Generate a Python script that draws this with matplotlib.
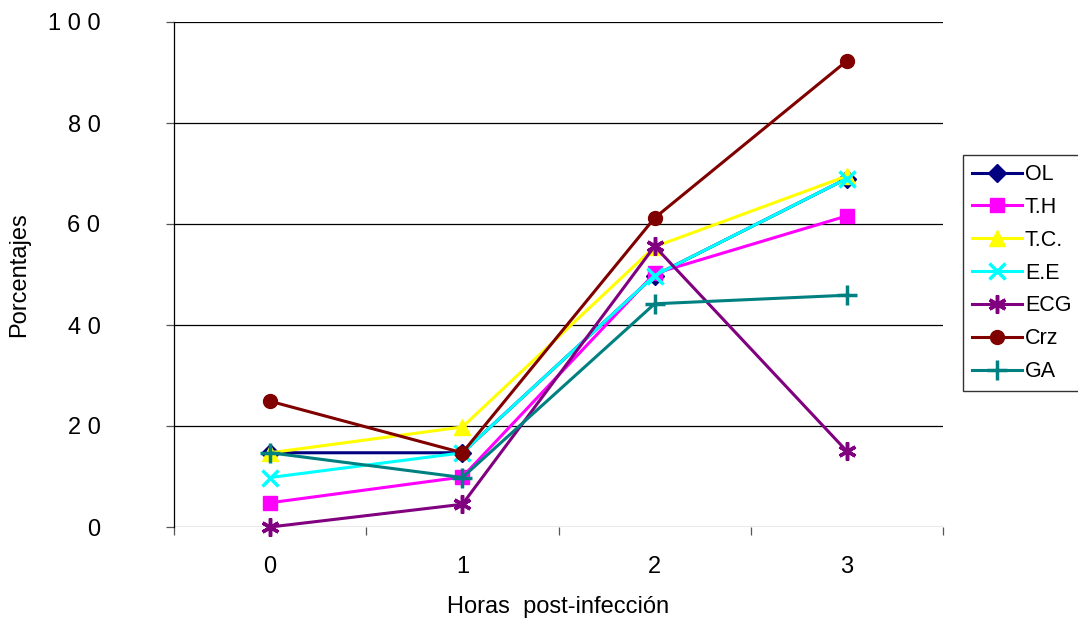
import matplotlib
matplotlib.use("Agg")
import matplotlib.pyplot as plt

hours = [0, 1, 2, 3]
hour_labels = ["0", "1", "2", "3"]
series_names = ["OL", "T.H", "T.C.", "E.E", "ECG", "Crz", "GA"]
ol = [14.7, 14.7, 49.8, 69.0]
th = [4.8, 9.9, 50.2, 61.6]
tc = [14.7, 19.8, 55.5, 69.5]
ee = [9.8, 14.7, 49.8, 69.0]
ecg = [0.0, 4.5, 55.6, 15.0]
crz = [24.9, 14.7, 61.2, 92.3]
ga = [14.7, 9.8, 44.2, 45.9]
yticks = [0, 20, 40, 60, 80, 100]
ytick_labels = ["0", "2 0", "4 0", "6 0", "8 0", "1 0 0"]

data = [ol, th, tc, ee, ecg, crz, ga]
colors = ["#000080", "#FF00FF", "#FFFF00", "#00FFFF", "#800080", "#800000", "#008080"]
markers = ["D", "s", "^", "x", (6, 2, 0), "o", "+"]
msizes = [9, 10, 12, 11, 13, 10, 14]

plt.rcParams['font.family'] = ['Liberation Sans', 'DejaVu Sans']
FS = 17

fig = plt.figure(figsize=(10.78, 6.19), dpi=100)
ax = fig.add_axes([174/1078, 1 - 527/619, (943-174)/1078, (527-22)/619])

for name, vals, c, m, ms in zip(series_names, data, colors, markers, msizes):
    ax.plot(hours, vals, color=c, marker=m, markersize=ms, linewidth=2.2,
            markeredgewidth=2.5 if m in ("x", "+", (6, 2, 0)) else 1,
            markeredgecolor=c, markerfacecolor=c, label=name, clip_on=False)

ax.set_xlim(-0.5, 3.5)
ax.set_ylim(0, 100)
ax.set_yticks(yticks)
ax.set_yticklabels(ytick_labels, fontsize=FS)
for y in yticks[1:]:
    ax.axhline(y, color="black", linewidth=0.9, zorder=0)
ax.axhline(0, color="#555555", linewidth=0.9, zorder=0)

ax.set_xticks(hours)
ax.set_xticklabels(hour_labels, fontsize=FS)
ax.set_xticks([-0.5, 0.5, 1.5, 2.5, 3.5], minor=True)
ax.tick_params(axis="x", which="major", length=0, pad=21)
ax.tick_params(axis="x", which="minor", length=6, width=0.9, color="#555555")
ax.tick_params(axis="y", length=6, width=0.9, pad=47, color="#555555")

for s in ["top", "right", "bottom"]:
    ax.spines[s].set_visible(False)
ax.spines["left"].set_linewidth(0.9)

ax.set_xlabel("Horas  post-infección", fontsize=FS, labelpad=13)
ax.set_ylabel("Porcentajes", fontsize=FS)
ax.yaxis.set_label_coords(-0.187, 0.5)

leg = fig.legend(loc="upper left", bbox_to_anchor=(963/1078, 1 - 155/619),
                 fontsize=15.5, frameon=True, fancybox=False, edgecolor="black",
                 handlelength=2.3, labelspacing=0.55, borderpad=0.42,
                 handletextpad=0.15, borderaxespad=0)
leg.get_frame().set_linewidth(1.0)

fig.savefig("out.png", dpi=100)
